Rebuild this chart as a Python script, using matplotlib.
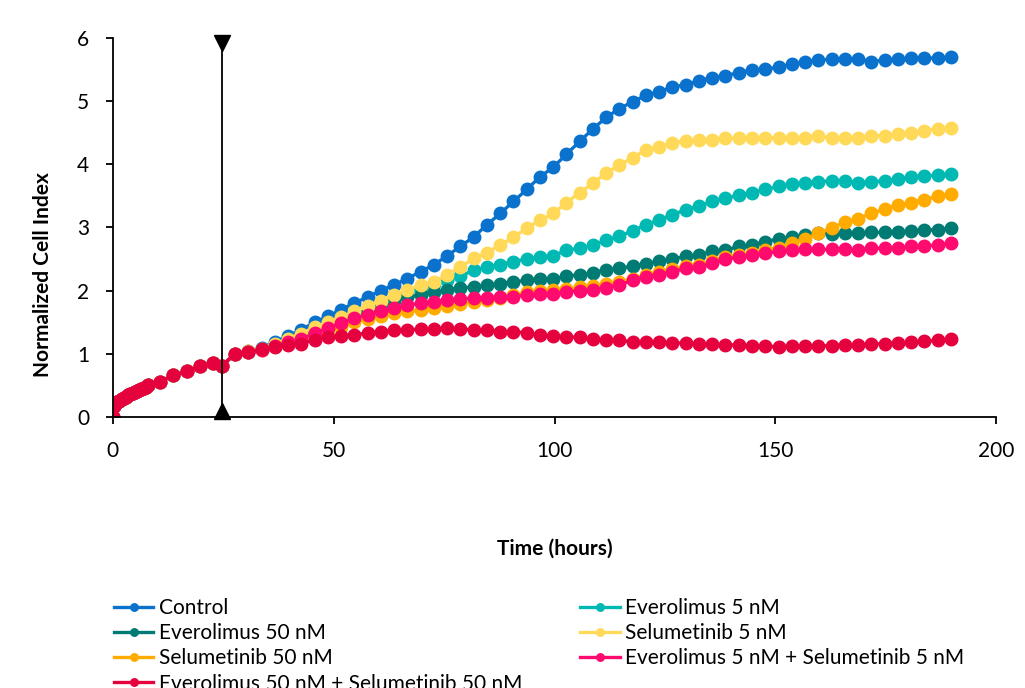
import matplotlib
matplotlib.use("Agg")
import matplotlib.pyplot as plt
import numpy as np

# sampling times (hours); the early sweep is dense, after treatment every 3 h
t_early = [0, 0.25, 0.5, 1.0, 1.5, 2.0, 2.5, 3.0, 3.5, 4.0, 4.5, 5.0, 5.5, 6.0, 6.5, 7.0, 7.5, 8.0,
           10.7, 13.7, 16.7, 19.7, 22.7, 24.7]
t_late = np.round(np.arange(27.7, 190, 3), 1)

# before treatment all wells overlap
ci_early = [0.00, 0.17, 0.20, 0.23, 0.26, 0.28, 0.30, 0.32, 0.34, 0.36, 0.38, 0.40, 0.41, 0.43, 0.44, 0.46, 0.48, 0.50,
            0.56, 0.66, 0.72, 0.80, 0.85, 0.81]

control = [1.00, 1.04, 1.09, 1.19, 1.28, 1.38, 1.50, 1.59, 1.70, 1.80,
           1.90, 2.00, 2.09, 2.19, 2.30, 2.41, 2.55, 2.70, 2.85, 3.04,
           3.22, 3.41, 3.60, 3.80, 3.95, 4.16, 4.36, 4.56, 4.74, 4.88,
           4.99, 5.09, 5.15, 5.22, 5.26, 5.32, 5.37, 5.40, 5.45, 5.49,
           5.50, 5.54, 5.58, 5.62, 5.65, 5.66, 5.67, 5.67, 5.62, 5.65,
           5.66, 5.68, 5.68, 5.68, 5.69]
evero_5 = [1.00, 1.03, 1.07, 1.14, 1.22, 1.30, 1.39, 1.47, 1.55, 1.64,
           1.72, 1.80, 1.88, 1.96, 2.03, 2.10, 2.17, 2.23, 2.32, 2.37,
           2.41, 2.46, 2.50, 2.53, 2.55, 2.64, 2.67, 2.72, 2.80, 2.86,
           2.95, 3.04, 3.12, 3.20, 3.28, 3.34, 3.41, 3.46, 3.51, 3.55,
           3.60, 3.65, 3.69, 3.70, 3.72, 3.74, 3.74, 3.71, 3.72, 3.74,
           3.77, 3.79, 3.81, 3.83, 3.85]
evero_50 = [1.00, 1.03, 1.07, 1.13, 1.20, 1.28, 1.36, 1.44, 1.52, 1.60,
            1.68, 1.76, 1.83, 1.90, 1.93, 1.97, 2.01, 2.04, 2.06, 2.09,
            2.11, 2.14, 2.16, 2.18, 2.18, 2.23, 2.25, 2.28, 2.33, 2.35,
            2.39, 2.42, 2.47, 2.50, 2.54, 2.56, 2.62, 2.64, 2.70, 2.72,
            2.77, 2.82, 2.85, 2.88, 2.91, 2.89, 2.91, 2.91, 2.92, 2.92,
            2.93, 2.94, 2.96, 2.96, 2.99]
selu_5 = [1.00, 1.04, 1.08, 1.15, 1.24, 1.32, 1.42, 1.50, 1.58, 1.67,
          1.76, 1.84, 1.93, 2.01, 2.09, 2.14, 2.25, 2.37, 2.51, 2.60,
          2.72, 2.84, 2.99, 3.11, 3.22, 3.39, 3.55, 3.70, 3.86, 3.99,
          4.10, 4.23, 4.27, 4.34, 4.37, 4.38, 4.38, 4.41, 4.41, 4.42,
          4.41, 4.42, 4.41, 4.42, 4.44, 4.42, 4.42, 4.42, 4.45, 4.45,
          4.48, 4.50, 4.53, 4.56, 4.57]
selu_50 = [1.00, 1.03, 1.06, 1.12, 1.17, 1.22, 1.30, 1.36, 1.43, 1.50,
           1.55, 1.60, 1.64, 1.67, 1.69, 1.72, 1.76, 1.79, 1.82, 1.85,
           1.88, 1.93, 1.97, 2.00, 2.01, 2.02, 2.05, 2.07, 2.10, 2.13,
           2.19, 2.25, 2.29, 2.34, 2.39, 2.41, 2.47, 2.53, 2.57, 2.60,
           2.64, 2.68, 2.75, 2.81, 2.91, 2.99, 3.08, 3.14, 3.22, 3.29,
           3.35, 3.39, 3.44, 3.49, 3.53]
combo_5 = [1.00, 1.02, 1.06, 1.12, 1.18, 1.23, 1.33, 1.40, 1.49, 1.56,
           1.62, 1.67, 1.72, 1.77, 1.80, 1.82, 1.85, 1.87, 1.88, 1.89,
           1.90, 1.90, 1.93, 1.95, 1.95, 1.98, 2.00, 2.01, 2.04, 2.09,
           2.16, 2.22, 2.25, 2.30, 2.35, 2.37, 2.43, 2.50, 2.53, 2.56,
           2.59, 2.62, 2.64, 2.65, 2.65, 2.65, 2.65, 2.64, 2.67, 2.67,
           2.67, 2.70, 2.71, 2.72, 2.75]
combo_50 = [1.00, 1.03, 1.07, 1.10, 1.14, 1.16, 1.22, 1.26, 1.28, 1.30,
            1.33, 1.35, 1.37, 1.38, 1.39, 1.39, 1.40, 1.39, 1.38, 1.37,
            1.35, 1.35, 1.33, 1.30, 1.28, 1.27, 1.26, 1.23, 1.22, 1.21,
            1.19, 1.18, 1.18, 1.17, 1.17, 1.16, 1.16, 1.14, 1.14, 1.12,
            1.12, 1.11, 1.12, 1.12, 1.12, 1.13, 1.14, 1.14, 1.15, 1.16,
            1.17, 1.18, 1.20, 1.21, 1.23]

labels = ["Control", "Everolimus 5 nM", "Everolimus 50 nM", "Selumetinib 5 nM",
          "Selumetinib 50 nM", "Everolimus 5 nM + Selumetinib 5 nM",
          "Everolimus 50 nM + Selumetinib 50 nM"]
series = [control, evero_5, evero_50, selu_5, selu_50, combo_5, combo_50]
colors = ["#0A72CC", "#00B9B2", "#007B73", "#FFD957", "#FFAB00", "#FF0A6E", "#E5003E"]

treat_time = 24.7

plt.rcParams["font.family"] = ["Lato", "DejaVu Sans"]

fig = plt.figure(figsize=(10.25, 6.88), dpi=100)
ax = fig.add_axes([0.110, 0.394, 0.862, 0.551])

t_all = np.concatenate([t_early, t_late])
handles = {}
for lab, vals, col in zip(labels, series, colors):
    assert len(vals) == len(t_late)
    y = np.concatenate([ci_early, vals])
    h, = ax.plot(t_all, y, "-o", color=col, lw=2.4, ms=9, label=lab)
    handles[lab] = h

# drug addition marker
ax.plot([treat_time, treat_time], [0, 6], color="black", lw=1.3, zorder=5)
ax.plot([treat_time], [5.92], marker="v", color="black", ms=12, zorder=6, clip_on=False)
ax.plot([treat_time], [0.1], marker="^", color="black", ms=12, zorder=6, clip_on=False)

ax.set_xlim(0, 200)
ax.set_ylim(0, 6)
ax.set_xticks([0, 50, 100, 150, 200])
ax.set_yticks([0, 1, 2, 3, 4, 5, 6])
for s in ["top", "right"]:
    ax.spines[s].set_visible(False)
ax.spines["left"].set_linewidth(1.3)
ax.spines["bottom"].set_linewidth(1.3)
ax.tick_params(direction="out", length=5, width=1.3, labelsize=15, pad=12)
ax.set_ylabel("Normalized Cell Index", fontsize=15, fontweight="bold")
ax.yaxis.set_label_coords(-0.068, 0.375)
ax.set_xlabel("Time (hours)", fontsize=15, fontweight="bold")
ax.xaxis.set_label_coords(0.5, -0.322)

order = [labels[i] for i in [0, 2, 4, 6, 1, 3, 5]]
fig.legend([handles[l] for l in order], order, ncol=2, loc="upper left",
           bbox_to_anchor=(0.103, 0.143),
           frameon=False, fontsize=15, handlelength=1.9, handletextpad=0.25,
           columnspacing=2.8, labelspacing=0.25, borderaxespad=0, markerscale=0.6)

fig.savefig("out.png", dpi=100)
